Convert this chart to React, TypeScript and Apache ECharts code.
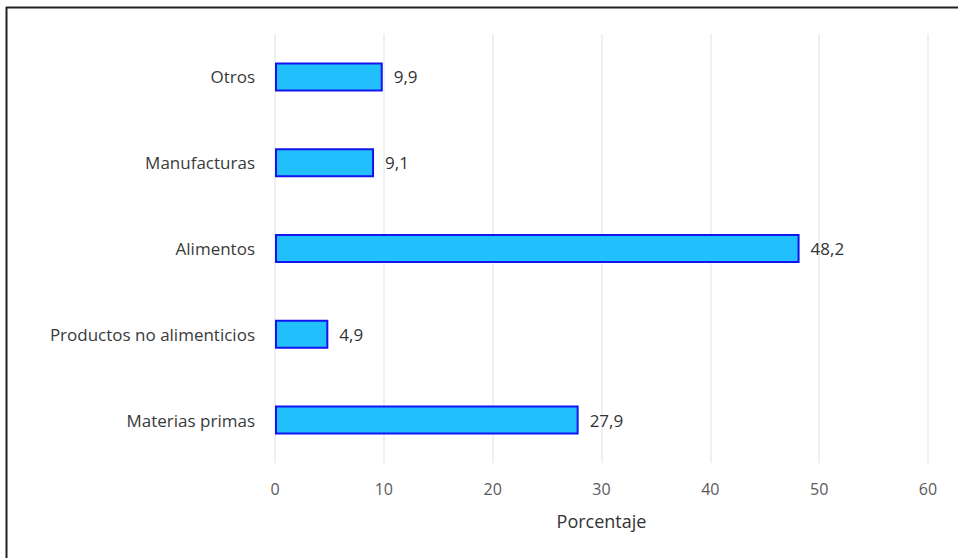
import React, { useEffect, useRef } from "react";
import * as echarts from "echarts";

// Categories listed top to bottom (y axis is inverted)
const categories = [
  "Otros",
  "Manufacturas",
  "Alimentos",
  "Productos no alimenticios",
  "Materias primas",
];
const values = [9.9, 9.1, 48.2, 4.9, 27.9];
const axisName = "Porcentaje";

const FONT = "'Open Sans', 'Liberation Sans', sans-serif";

export default function App() {
  const ref = useRef<HTMLDivElement>(null);

  useEffect(() => {
    if (!ref.current) return;
    const chart = echarts.init(ref.current, undefined, { renderer: "svg" });
    chart.setOption({
      animation: false,
      backgroundColor: "#ffffff",
      graphic: [
        {
          type: "line",
          shape: { x1: 6.5, y1: 7, x2: 6.5, y2: 558 },
          style: { stroke: "#222222", lineWidth: 2 },
          z: 100,
        },
        {
          type: "line",
          shape: { x1: 6, y1: 7.5, x2: 958, y2: 7.5 },
          style: { stroke: "#222222", lineWidth: 2 },
          z: 100,
        },
      ],
      grid: { left: 275, right: 30, top: 34, bottom: 95, containLabel: false },
      xAxis: {
        type: "value",
        min: 0,
        max: 60,
        interval: 10,
        name: axisName,
        nameLocation: "middle",
        nameGap: 49,
        nameTextStyle: { fontFamily: FONT, fontSize: 18, color: "#333333" },
        axisLine: { show: false },
        axisTick: { show: false },
        axisLabel: { margin: 18, fontFamily: FONT, fontSize: 16, color: "#5a5a5a" },
        splitLine: { show: true, lineStyle: { color: "#ebebeb", width: 1.5 } },
      },
      yAxis: {
        type: "category",
        data: categories,
        inverse: true,
        axisLine: { show: false },
        axisTick: { show: false },
        axisLabel: { margin: 20, fontFamily: FONT, fontSize: 17, color: "#3a3a3a" },
        splitLine: { show: false },
      },
      series: [
        {
          type: "bar",
          data: values,
          barWidth: 29,
          itemStyle: {
            color: "#22bffd",
            borderColor: "#1414f0",
            borderWidth: 2,
          },
          label: {
            show: true,
            position: "right",
            distance: 11,
            fontFamily: FONT,
            fontSize: 17,
            color: "#333333",
            formatter: (p: any) => Number(p.value).toFixed(1).replace(".", ","),
          },
        },
      ],
    });
    return () => chart.dispose();
  }, []);

  return (
    <div
      ref={ref}
      style={{ position: "fixed", left: 0, top: 0, width: 958, height: 558 }}
    />
  );
}
